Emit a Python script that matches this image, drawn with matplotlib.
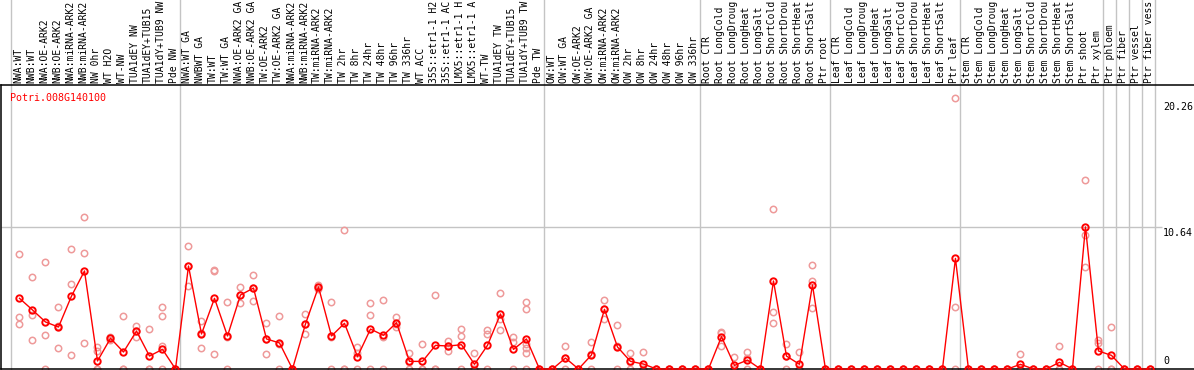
import matplotlib
matplotlib.use("Agg")
import matplotlib.pyplot as plt
import matplotlib.transforms as mtransforms


OUTPUT_PATH = "out.png"
GENE_ID = "Potri.008G140100"

# sample labels as they show in the header band (cut to 14 characters there)
SAMPLES = [
    "NWA:WT", "NWB:WT", "NWA:OE-ARK2", "NWB:OE-ARK2", "NWA:miRNA-ARK2",
    "NWB:miRNA-ARK2", "NW 0hr", "WT H2O", "WT-NW", "TUA1dEY NW",
    "TUA1dEY+TUB15", "TUA1dY+TUB9 NW", "Pde NW", "NWA:WT GA", "NWBWT GA",
    "TW:WT", "TW:WT GA", "NWA:OE-ARK2 GA", "NWB:OE-ARK2 GA", "TW:OE-ARK2",
    "TW:OE-ARK2 GA", "NWA:miRNA-ARK2", "NWB:miRNA-ARK2", "TW:miRNA-ARK2",
    "TW:miRNA-ARK2", "TW 2hr", "TW 8hr", "TW 24hr", "TW 48hr", "TW 96hr",
    "TW 336hr", "WT ACC", "35S::etr1-1 H2", "35S::etr1-1 AC",
    "LMX5::etr1-1 H", "LMX5::etr1-1 A", "WT-TW", "TUA1dEY TW",
    "TUA1dEY+TUB15", "TUA1dY+TUB9 TW", "Pde TW", "OW:WT", "OW:WT GA",
    "OW:OE-ARK2", "OW:OE-ARK2 GA", "OW:miRNA-ARK2", "OW:miRNA-ARK2",
    "OW 2hr", "OW 8hr", "OW 24hr", "OW 48hr", "OW 96hr", "OW 336hr",
    "Root CTR", "Root LongCold", "Root LongDroug", "Root LongHeat",
    "Root LongSalt", "Root ShortCold", "Root ShortDrou", "Root ShortHeat",
    "Root ShortSalt", "Ptr root", "Leaf CTR", "Leaf LongCold",
    "Leaf LongDroug", "Leaf LongHeat", "Leaf LongSalt", "Leaf ShortCold",
    "Leaf ShortDrou", "Leaf ShortHeat", "Leaf ShortSalt", "Ptr leaf",
    "Stem CTR", "Stem LongCold", "Stem LongDroug", "Stem LongHeat",
    "Stem LongSalt", "Stem ShortCold", "Stem ShortDrou", "Stem ShortHeat",
    "Stem ShortSalt", "Ptr shoot", "Ptr xylem", "Ptr phloem", "Ptr fiber",
    "Ptr vessel", "Ptr fiber vess",
]

# mean expression per sample
MEANS = [
    5.29, 4.42, 3.52, 3.14, 5.46, 7.34, 0.60, 2.30, 1.27, 2.84,
    0.97, 1.47, 0.00, 7.71, 2.62, 5.29, 2.47, 5.54, 6.06, 2.25,
    1.95, 0.00, 3.37, 6.14, 2.47, 3.42, 0.92, 2.99, 2.52, 3.47,
    0.57, 0.57, 1.77, 1.72, 1.82, 0.35, 1.77, 4.12, 1.47, 2.25,
    0.00, 0.00, 0.82, 0.00, 1.05, 4.47, 1.65, 0.57, 0.37, 0.00,
    0.00, 0.00, 0.00, 0.00, 2.42, 0.27, 0.67, 0.00, 6.59, 0.97,
    0.35, 6.29, 0.00, 0.00, 0.00, 0.00, 0.00, 0.00, 0.00, 0.00,
    0.00, 0.00, 8.28, 0.00, 0.00, 0.00, 0.00, 0.35, 0.00, 0.00,
    0.50, 0.00, 10.64, 1.35, 1.02, 0.00, 0.00, 0.00,
]

# individual replicate values per sample
REPLICATES = [
    [8.58, 3.87, 3.35], [6.86, 4.07, 2.17], [7.99, 2.52, 0], [4.66, 3.21, 1.55],
    [8.96, 6.36, 1.05], [11.36, 8.66, 1.92], [1.67, 1.37, 0, 0], [2.4, 2.2],
    [3.94, 0, 0], [3.22, 2.88, 2.42], [2.97, 0, 0], [4.62, 3.99, 1.75, 0],
    [0, 0, 0], [9.18, 7.74, 6.21], [3.62, 2.67, 1.57], [7.41, 7.3, 1.10],
    [5.01, 2.4, 0], [6.14, 5.52, 4.96], [7.01, 6.08, 5.09], [3.42, 2.23, 1.10],
    [3.94, 1.9, 0], [0, 0, 0], [4.12, 3.37, 2.62], [6.29, 6.14, 6.0],
    [5.01, 2.4, 0], [10.40, 0, 0], [1.62, 1.17, 0], [4.94, 4.02, 0],
    [5.14, 2.4, 0], [3.89, 3.4, 3.12], [1.17, 0.55, 0], [1.85, 0, 0],
    [5.51, 0, 0], [2.07, 1.75, 1.35], [2.99, 2.49, 0], [1.17, 0, 0],
    [2.92, 2.62, 0], [5.69, 3.75, 2.92], [2.42, 2.0, 0],
    [5.01, 4.49, 1.9, 1.6, 1.2, 0], [0, 0, 0], [0, 0, 0], [1.72, 0.8, 0],
    [0, 0, 0], [2.05, 1.1, 0], [5.14, 4.5, 3.77], [3.27, 1.7, 0],
    [1.17, 0.55, 0], [1.27, 0, 0], [0, 0, 0], [0, 0, 0], [0, 0, 0], [0, 0, 0],
    [0, 0, 0], [2.8, 2.72, 1.72], [0.90, 0, 0], [1.27, 0.8, 0], [0, 0, 0],
    [11.95, 4.24, 3.47], [1.85, 1.0, 0], [1.27, 0, 0], [7.78, 6.59, 4.54],
    [0, 0, 0], [0, 0, 0], [0, 0, 0], [0, 0, 0], [0, 0, 0], [0, 0, 0],
    [0, 0, 0], [0, 0, 0], [0, 0, 0], [0, 0, 0], [20.26, 4.62, 0],
    [0, 0, 0], [0, 0, 0], [0, 0, 0], [0, 0, 0], [1.10, 0, 0], [0, 0, 0],
    [0, 0, 0], [1.72, 0, 0], [0, 0, 0], [14.15, 10.03, 7.61],
    [2.17, 1.92, 0], [3.14, 0, 0], [0, 0, 0], [0, 0, 0], [0, 0, 0],
]

# last sample index of each tissue group (grey separators drawn after them)
GROUP_ENDS = [-1, 12, 40, 52, 62, 72, 83, 84, 85, 86, 87]

MAX_REP = 20.26
MAX_MEAN = 10.64

RED = "#ff0000"
PINK = "#ee9a9a"
GREY = "#c4c4c4"
FONT = "DejaVu Sans Mono"


def make_plot():
    fig = plt.figure(figsize=(11.94, 3.70), dpi=100)
    ax = fig.add_axes([1 / 1194, 1 / 370, 1193 / 1194, 284 / 370])
    ax.set_xlim(-1.423, 90.35)
    ax.set_ylim(0, 21.26)
    ax.set_xticks([])
    ax.set_yticks([])
    for side in ("left", "top", "bottom"):
        ax.spines[side].set_linewidth(1.1)
        ax.spines[side].set_color("black")
    ax.spines["right"].set_visible(False)

    # group separators run up through the label band
    ax.vlines([i + 0.35 for i in GROUP_ENDS], -1, 30, colors=GREY,
              linewidth=1.0, clip_on=False, zorder=1)
    ax.hlines(MAX_MEAN, -1.423, 87.9, colors=GREY, linewidth=1.0, zorder=1)

    rep_x = [i for i, reps in enumerate(REPLICATES) for _ in reps]
    rep_y = [v for reps in REPLICATES for v in reps]
    ax.plot(rep_x, rep_y, "o", mfc="none", mec=PINK, ms=4.6, mew=1.1,
            clip_on=False, zorder=2)

    idx = list(range(len(SAMPLES)))
    ax.plot(idx, MEANS, "-", color=RED, linewidth=1.0, clip_on=False, zorder=3)
    ax.plot(idx, MEANS, "o", mfc="none", mec=RED, ms=4.6, mew=1.4,
            clip_on=False, zorder=4)

    label_tf = mtransforms.blended_transform_factory(ax.transData, ax.transAxes)
    for i, name in enumerate(SAMPLES):
        ax.text(i - 0.1, 1.007, name, rotation=90, ha="center", va="bottom",
                fontsize=7.0, family=FONT, transform=label_tf, clip_on=False)

    ax.text(-0.73, 20.06, GENE_ID, color=RED, fontsize=7.2, family=FONT,
            ha="left", va="baseline")

    ax.text(87.96, MAX_REP - 0.3, f"{MAX_REP:.2f}", fontsize=7.2, family=FONT,
            ha="left", va="top")
    ax.text(87.96, MAX_MEAN - 0.05, f"{MAX_MEAN:.2f}", fontsize=7.2, family=FONT,
            ha="left", va="top")
    ax.text(87.96, 0.2, "0", fontsize=7.2, family=FONT, ha="left", va="bottom")

    fig.savefig(OUTPUT_PATH, dpi=100)
    plt.close(fig)


if __name__ == "__main__":
    make_plot()
